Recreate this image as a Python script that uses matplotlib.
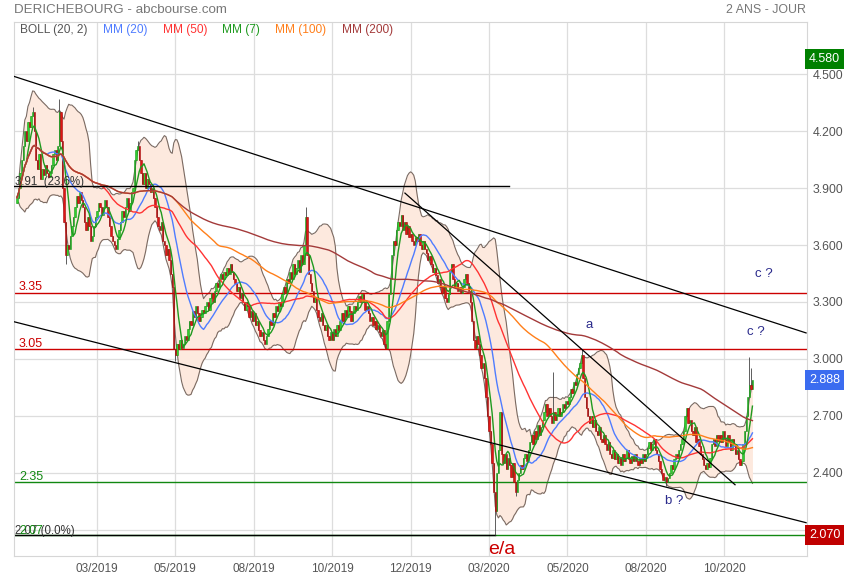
import numpy as np
import pandas as pd
import matplotlib
matplotlib.use("Agg")
import matplotlib.pyplot as plt
from matplotlib.transforms import blended_transform_factory

plt.rcParams['font.family'] = ['Liberation Sans', 'DejaVu Sans']

# cours de cloture journaliers (index = seance)
closes = [
    3.85, 3.90, 3.98, 4.05, 4.12, 4.20, 4.15, 4.25, 4.22, 4.28,
    4.30, 4.20, 4.05, 4.00, 4.08, 3.95, 4.00, 3.97, 4.02, 3.98,
    3.96, 3.98, 4.02, 4.08, 4.10, 4.05, 4.12, 4.30, 4.15, 3.90,
    3.72, 3.55, 3.60, 3.58, 3.65, 3.70, 3.75, 3.80, 3.86, 3.82,
    3.88, 3.84, 3.80, 3.72, 3.68, 3.75, 3.70, 3.62, 3.65, 3.70,
    3.75, 3.78, 3.82, 3.80, 3.76, 3.80, 3.84, 3.80, 3.75, 3.70,
    3.65, 3.62, 3.60, 3.58, 3.63, 3.68, 3.72, 3.78, 3.75, 3.80,
    3.85, 3.78, 3.82, 3.88, 3.90, 4.05, 4.10, 4.12, 4.05, 3.98,
    3.92, 3.98, 3.90, 3.95, 3.92, 3.88, 3.90, 3.85, 3.80, 3.75,
    3.70, 3.68, 3.72, 3.62, 3.60, 3.55, 3.58, 3.52, 3.45, 3.38,
    3.05, 3.02, 3.08, 3.05, 3.10, 3.06, 3.08, 3.12, 3.10, 3.16,
    3.20, 3.18, 3.25, 3.22, 3.28, 3.24, 3.20, 3.22, 3.26, 3.24,
    3.28, 3.30, 3.26, 3.32, 3.35, 3.30, 3.36, 3.40, 3.38, 3.42,
    3.45, 3.42, 3.46, 3.44, 3.48, 3.45, 3.50, 3.46, 3.42, 3.40,
    3.36, 3.38, 3.32, 3.35, 3.30, 3.26, 3.30, 3.28, 3.22, 3.25,
    3.20, 3.24, 3.18, 3.20, 3.15, 3.12, 3.14, 3.10, 3.08, 3.12,
    3.16, 3.20, 3.18, 3.24, 3.22, 3.28, 3.25, 3.30, 3.28, 3.34,
    3.38, 3.35, 3.42, 3.40, 3.46, 3.42, 3.50, 3.45, 3.48, 3.52,
    3.46, 3.55, 3.50, 3.60, 3.75, 3.55, 3.45, 3.40, 3.36, 3.30,
    3.32, 3.26, 3.22, 3.20, 3.24, 3.18, 3.15, 3.18, 3.12, 3.10,
    3.14, 3.10, 3.16, 3.12, 3.18, 3.15, 3.20, 3.24, 3.20, 3.26,
    3.22, 3.28, 3.25, 3.20, 3.24, 3.28, 3.26, 3.30, 3.33, 3.30,
    3.34, 3.30, 3.26, 3.28, 3.24, 3.20, 3.22, 3.18, 3.20, 3.16,
    3.18, 3.14, 3.12, 3.15, 3.08, 3.06, 3.20, 3.34, 3.42, 3.55,
    3.62, 3.60, 3.68, 3.72, 3.70, 3.76, 3.68, 3.72, 3.66, 3.70,
    3.64, 3.66, 3.62, 3.60, 3.64, 3.62, 3.66, 3.60, 3.58, 3.62,
    3.58, 3.56, 3.52, 3.54, 3.50, 3.46, 3.48, 3.44, 3.40, 3.42,
    3.38, 3.35, 3.38, 3.32, 3.30, 3.34, 3.46, 3.50, 3.42, 3.38,
    3.40, 3.36, 3.38, 3.35, 3.38, 3.42, 3.45, 3.40, 3.36, 3.30,
    3.20, 3.10, 3.06, 3.12, 3.08, 3.02, 2.95, 2.98, 2.90, 2.80,
    2.70, 2.62, 2.55, 2.45, 2.30, 2.20, 2.40, 2.52, 2.72, 2.50,
    2.45, 2.50, 2.42, 2.48, 2.44, 2.38, 2.45, 2.35, 2.30, 2.36,
    2.40, 2.44, 2.42, 2.48, 2.50, 2.46, 2.52, 2.56, 2.60, 2.55,
    2.62, 2.58, 2.65, 2.60, 2.64, 2.68, 2.72, 2.76, 2.70, 2.74,
    2.70, 2.66, 2.72, 2.68, 2.70, 2.74, 2.70, 2.72, 2.76, 2.74,
    2.78, 2.76, 2.80, 2.84, 2.82, 2.88, 2.86, 2.92, 2.95, 2.98,
    3.02, 2.90, 2.80, 2.74, 2.70, 2.66, 2.70, 2.64, 2.68, 2.62,
    2.60, 2.64, 2.58, 2.56, 2.60, 2.55, 2.52, 2.56, 2.50, 2.48,
    2.52, 2.47, 2.50, 2.45, 2.48, 2.44, 2.50, 2.46, 2.48, 2.52,
    2.47, 2.45, 2.49, 2.46, 2.50, 2.46, 2.44, 2.48, 2.45, 2.50,
    2.46, 2.50, 2.53, 2.56, 2.52, 2.55, 2.58, 2.52, 2.50, 2.46,
    2.42, 2.40, 2.36, 2.38, 2.35, 2.37, 2.40, 2.44, 2.42, 2.47,
    2.50, 2.48, 2.52, 2.55, 2.58, 2.62, 2.70, 2.74, 2.66, 2.68,
    2.62, 2.60, 2.64, 2.56, 2.58, 2.54, 2.50, 2.47, 2.44, 2.42,
    2.45, 2.43, 2.48, 2.55, 2.58, 2.54, 2.60, 2.57, 2.60, 2.56,
    2.62, 2.58, 2.54, 2.60, 2.56, 2.52, 2.58, 2.55, 2.50, 2.52,
    2.47, 2.44, 2.46, 2.55, 2.62, 2.70, 2.80, 2.86, 2.84, 2.888,
]
first_open = 3.82

# meches visibles (plus haut / plus bas)
wick_high = {10: 4.33, 27: 4.37, 77: 4.15, 184: 3.80, 342: 2.93, 360: 3.05, 467: 3.01, 468: 2.95}
wick_low = {31: 3.50, 101: 2.99, 305: 2.07, 318: 2.28, 414: 2.33}

tick_pos = [51, 101, 151, 201, 251, 301, 351, 401, 451]
tick_labels = ["03/2019", "05/2019", "08/2019", "10/2019", "12/2019",
               "03/2020", "05/2020", "08/2020", "10/2020"]
price_ticks = [2.1, 2.4, 2.7, 3.0, 3.3, 3.6, 3.9, 4.2, 4.5]

# niveaux horizontaux
red_levels = [3.35, 3.05]
green_levels = [2.35, 2.07]
fibo_top = 3.91
fibo_bottom = 2.07

# droites de tendance (seance, cours)
trend_up = [(-1.9, 4.489), (503.2, 3.137)]
trend_low = [(-1.9, 3.196), (503.2, 2.137)]
trend_mid = [(247.4, 3.874), (457.9, 2.337)]

ma_periods = [20, 50, 7, 100, 200]
ma_colors = ['#4f7cff', '#ff3333', '#1f9a1f', '#ff7f1a', '#a33a3a']

n = len(closes)
idx = np.arange(n)
close = np.array(closes)
opens = np.concatenate([[first_open], close[:-1]])
s = pd.Series(close)

fig = plt.figure(figsize=(8.55, 5.8), dpi=100)
ax = fig.add_axes([14.3 / 855, 1 - 555.7 / 580, 792.4 / 855, 533.4 / 580])
ax.set_xlim(-1.7, 503.6)
ax.set_ylim(1.963, 4.774)

# bollinger
mid = s.rolling(20, min_periods=2).mean()
sd = s.rolling(20, min_periods=2).std(ddof=0)
up = mid + 2 * sd
lo = mid - 2 * sd
ax.fill_between(idx, lo, up, color='#fde9de', zorder=1, lw=0)
ax.plot(idx, up, color='#7a6a62', lw=0.8, zorder=1.5)
ax.plot(idx, lo, color='#7a6a62', lw=0.8, zorder=1.5)

# lignes horizontales
for lv in red_levels:
    ax.axhline(lv, color='#cc0000', lw=1, zorder=2)
    ax.text(1.3, lv + 0.011, f"{lv:.2f}", color='#cc0000', fontsize=9, va='baseline', zorder=6)
ax.axhline(green_levels[0], color='#118811', lw=1, zorder=2)
ax.text(1.3, green_levels[0] + 0.011, f"{green_levels[0]:.2f}", color='#118811', fontsize=9,
        va='baseline', zorder=6)
ax.axhline(green_levels[1], color='#118811', lw=1, zorder=2)
ax.plot([-1.7, 304.8], [fibo_bottom, fibo_bottom], color='black', lw=1, zorder=2.1)
ax.plot([-1.7, 313.8], [fibo_top, fibo_top], color='black', lw=1, zorder=5)
ax.text(-1.3, fibo_top + 0.006, "3.91  (23.6%)", color='#333333', fontsize=8.3, va='baseline', zorder=6)
ax.text(-1.3, fibo_bottom + 0.006, "2.07 (0.0%)", color='#333333', fontsize=8.3, va='baseline', zorder=6)
ax.text(1.3, fibo_bottom + 0.006, "2.07", color='#118811', fontsize=8.8, va='baseline', zorder=6.1)

# chandeliers
hi = np.maximum(opens, close)
lw_ = np.minimum(opens, close)
for k, v in wick_high.items():
    hi[k] = v
for k, v in wick_low.items():
    lw_[k] = v
ax.vlines(idx, lw_, hi, color='#444444', lw=0.6, zorder=3)
hausse = close >= opens
body_h = np.maximum(np.abs(close - opens), 0.004)
ax.bar(idx[hausse], body_h[hausse], bottom=np.minimum(opens, close)[hausse], width=0.85,
       color='#2fd02f', edgecolor='#1b9a1b', lw=0.4, zorder=3.5)
ax.bar(idx[~hausse], body_h[~hausse], bottom=np.minimum(opens, close)[~hausse], width=0.85,
       color='#e01515', edgecolor='#a00c0c', lw=0.4, zorder=3.5)

# moyennes mobiles
for p, c in zip(ma_periods, ma_colors):
    ax.plot(idx, s.rolling(p, min_periods=1).mean(), color=c, lw=1, zorder=4)

# tendances
for pts in [trend_up, trend_low, trend_mid]:
    (x0, y0), (x1, y1) = pts
    ax.plot([x0, x1], [y0, y1], color='black', lw=0.9, zorder=5)

# annotations
ax.text(365, 3.18, "a", color='#2b2b8c', fontsize=9.5, ha='center', va='center', zorder=6)
ax.text(476, 3.45, "c ?", color='#2b2b8c', fontsize=9.5, ha='center', va='center', zorder=6)
ax.text(471, 3.14, "c ?", color='#2b2b8c', fontsize=9.5, ha='center', va='center', zorder=6)
ax.text(419, 2.25, "b ?", color='#2b2b8c', fontsize=9.5, ha='center', va='center', zorder=6)
ax.text(309, 1.995, "e/a", color='#cc0000', fontsize=14, ha='center', va='center', zorder=6)

# axes et grille
ax.set_xticks(tick_pos, tick_labels)
ax.set_yticks(price_ticks, [f"{v:.3f}" for v in price_ticks])
ax.yaxis.tick_right()
ax.tick_params(axis='x', length=0, pad=5, labelsize=8.5, labelcolor='#555555')
ax.tick_params(axis='y', length=0, pad=4, labelsize=8.8, labelcolor='#555555')
ax.grid(True, color='#dddddd', lw=0.9, zorder=0)
ax.set_axisbelow(True)
for sp in ax.spines.values():
    sp.set_color('#d6d6d6')

# etiquettes de prix a droite
tr = blended_transform_factory(ax.transAxes, ax.transData)
for val, col in [(4.58, '#008000'), (close[-1], '#3b6cf0'), (2.07, '#c00000')]:
    ax.text(1.003, val, f"{val:.3f}", transform=tr, color='white', fontsize=9, ha='left',
            va='center', clip_on=False, zorder=10,
            bbox=dict(boxstyle='square,pad=0.32', fc=col, ec='none'))

# titre et legende
fig.text(14 / 855, 1 - 10 / 580, "DERICHEBOURG - abcbourse.com", color='#777777', fontsize=9.6, va='center')
fig.text(806 / 855, 1 - 10 / 580, "2 ANS - JOUR", color='#777777', fontsize=8.9, va='center', ha='right')
legend_items = ["BOLL (20, 2)", "MM (20)", "MM (50)", "MM (7)", "MM (100)", "MM (200)"]
legend_cols = ['#555555'] + ma_colors
legend_x = [20, 103, 163, 222, 275, 342]
for t, c, xp in zip(legend_items, legend_cols, legend_x):
    fig.text(xp / 855, 1 - 30 / 580, t, color=c, fontsize=8.6, va='center')

fig.savefig("out.png", dpi=100)
